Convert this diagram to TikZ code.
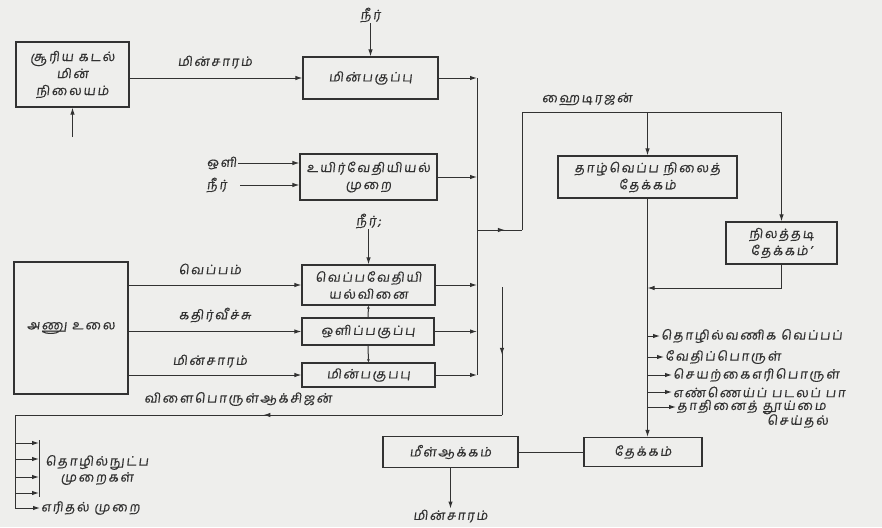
\documentclass[tikz,border=0pt]{standalone}
\usepackage{fontspec}
\setmainfont{Hind Madurai}[Script=Tamil, FakeSlant=0.12, LetterSpace=14, FakeBold=0.4]
\usetikzlibrary{arrows.meta, decorations.markings}
\definecolor{ink}{RGB}{50,50,50}
\definecolor{paper}{RGB}{238,238,236}
\tikzset{
  box/.style={draw=ink, line width=1.2pt, align=center, inner sep=1pt, text=ink,
    font=\fontsize{13}{17}\selectfont},
  lbl/.style={text=ink, inner sep=1pt, align=center, font=\fontsize{13}{16}\selectfont},
  conn/.style={draw=ink, line width=1pt},
  arr/.style={conn, -{Latex[length=7pt,width=4.5pt]}},
  smallarr/.style={conn, -{Latex[length=3pt,width=3pt]}},
  midarr/.style={conn, postaction={decorate}, decoration={markings,
    mark=at position #1 with {\arrow{Latex[length=7pt,width=4.5pt]}}}},
}
\begin{document}
\begin{tikzpicture}[x=1pt,y=-1pt]
\fill[paper] (0,0) rectangle (882,527);
\useasboundingbox (0,0) rectangle (882,527);

% boxes
\node[box, minimum width=113pt, minimum height=65pt] (solar) at (72.5,74.5) {சூரிய கடல்\\மின்\\நிலையம்};
\node[box, minimum width=135pt, minimum height=42pt] (mp1) at (370.5,78) {மின்பகுப்பு};
\node[box, minimum width=137pt, minimum height=46pt] (bio) at (368.5,177) {உயிர்வேதியியல்\\முறை};
\node[box, minimum width=133pt, minimum height=40pt] (thermo) at (368.5,285) {வெப்பவேதியி\\யல்வினை};
\node[box, minimum width=132pt, minimum height=27pt] (photo) at (368,331.5) {ஒளிப்பகுப்பு};
\node[box, minimum width=133pt, minimum height=24pt] (mp2) at (368.5,375) {மின்பகுபபு};
\node[box, minimum width=114pt, minimum height=132pt] (anu) at (71,328) {அணு உலை};
\node[box, minimum width=179pt, minimum height=42pt] (low) at (647.5,177) {தாழ்வெப்ப நிலைத்\\தேக்கம்};
\node[box, minimum width=111pt, minimum height=42pt] (under) at (781.5,243) {நிலத்தடி\\தேக்கம்'};
\node[box, minimum width=118pt, minimum height=29pt] (store) at (643,452) {தேக்கம்};
\node[box, minimum width=135pt, minimum height=31pt] (regen) at (450.5,452) {மீள்ஆக்கம்};

% labels
\node[lbl] (water1) at (370.5,15) {நீர்};
\node[lbl] (water3) at (368.5,221) {நீர்;};
\node[lbl, anchor=east] (light) at (238,163) {ஒளி};
\node[lbl, anchor=east] (water2) at (228,185) {நீர்};
\node[lbl] (lsolar) at (215,62) {மின்சாரம்};
\node[lbl] (lheat) at (210,269) {வெப்பம்};
\node[lbl] (lrad) at (215,315) {கதிர்வீச்சு};
\node[lbl] (lelec) at (210,361) {மின்சாரம்};
\node[lbl] (loxy) at (238,399) {விளைபொருள்ஆக்சிஜன்};
\node[lbl] (lhyd) at (587,99) {ஹைடிரஜன்};
\node[lbl] (lelec2) at (450.5,516) {மின்சாரம்};

% solar inputs/outputs
\coordinate (sbot) at (72.5,137);
\draw[arr] (sbot) -- (solar.south);
\draw[arr] (solar.east |- mp1.west) -- (mp1.west);
\draw[arr] (water1.south) -- (mp1.north);
\draw[arr] (light.east) -- (bio.west |- light.east);
\coordinate (w2s) at (240,185);
\draw[arr] (w2s) -- (bio.west |- w2s);
\draw[arr] (water3.south) -- (thermo.north);

% nuclear outputs
\draw[arr] (anu.east |- thermo.west) -- (thermo.west);
\draw[arr] (anu.east |- photo.west) -- (photo.west);
\draw[arr] (anu.east |- mp2.west) -- (mp2.west);

% small links between stacked boxes
\draw[smallarr] (photo.north) -- (thermo.south);
\draw[smallarr] (photo.south) -- (mp2.north);

% collector
\coordinate (ctop) at (477,78);
\coordinate (cbot) at (477,375);
\coordinate (cbr) at (477,230);
\draw[conn] (ctop) -- (cbot);
\draw[arr] (mp1.east) -- (ctop);
\draw[arr] (bio.east) -- (bio.east -| ctop);
\draw[arr] (thermo.east) -- (thermo.east -| ctop);
\draw[arr] (photo.east) -- (photo.east -| ctop);
\draw[arr] (mp2.east) -- (cbot);

% hydrogen
\coordinate (hjog) at (522,230);
\coordinate (htop) at (522,112);
\draw[midarr=0.62] (cbr) -- (hjog);
\draw[conn] (hjog) -- (htop) -- (under.north |- htop);
\draw[arr] (under.north |- htop) -- (under.north);
\draw[arr] (low.north |- htop) -- (low.north);

% return from underground store
\coordinate (ret) at (781.5,288);
\draw[arr] (under.south) -- (ret) -- (low.south |- ret);
\draw[arr] (low.south) -- (low.south |- store.north);

% uses
\foreach \yy/\nm/\txt/\xs in {336/u1/தொழில்வணிக வெப்பப்/658, 357/u2/வேதிப்பொருள்/662, 375/u3/செயற்கைஎரிபொருள்/670, 392/u4/எண்ணெய்ப் படலப் பா/670, 407/u5/தாதினைத் தூய்மை/674}{
  \coordinate (\nm s) at (647.5,\yy);
  \node[lbl, anchor=west] (\nm) at (\xs+2,\yy) {\txt};
  \draw[arr] (\nm s) -- (\nm.west);
}
\node[lbl, anchor=west] (u6) at (766,421) {செய்தல்};

% regeneration
\draw[conn] (regen.east) -- (store.west);
\draw[arr] (regen.south) -- (regen.south |- lelec2.north);

% oxygen path
\coordinate (oxtop) at (502,287);
\coordinate (oxcorner) at (502,415);
\coordinate (oxleft) at (15,415);
\coordinate (oxbot) at (15,508);
\draw[midarr=0.53] (oxtop) -- (oxcorner);
\draw[midarr=0.49] (oxcorner) -- (oxleft);
\draw[conn] (oxleft) -- (oxbot);
\node[lbl, anchor=west] (burn) at (40,508) {எரிதல் முறை};
\draw[arr] (oxbot) -- (burn.west);
\node[lbl] (tech) at (97,470) {தொழில்நுட்ப\\முறைகள்};
\coordinate (brtop) at (39,440);
\coordinate (brbot) at (39,497);
\draw[conn] (brtop) -- (brbot);
\foreach \yy in {443,459,477,493}{
  \draw[arr] (15,\yy) -- (39,\yy);
}
\end{tikzpicture}
\end{document}
